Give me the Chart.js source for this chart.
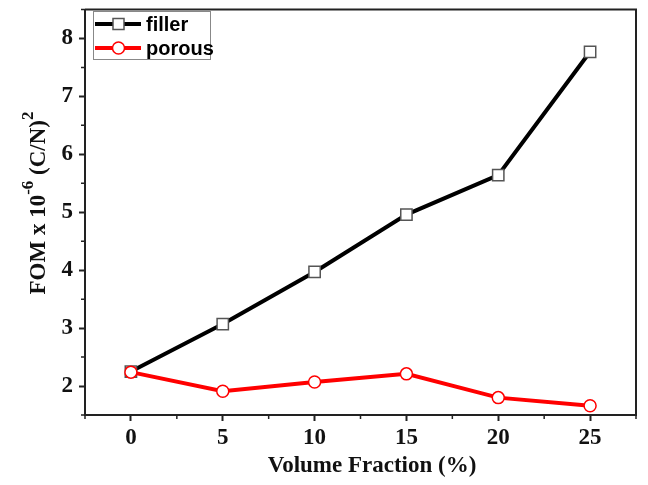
<!DOCTYPE html>
<html>
<head>
<meta charset="utf-8">
<script src="https://cdn.jsdelivr.net/npm/chart.js@4"></script>
<style>
  html, body { margin: 0; padding: 0; background: #fff; }
  #wrap { width: 648px; height: 485px; }
</style>
</head>
<body>
<div id="wrap"><canvas id="myChart" width="648" height="485"></canvas></div>
<script>
const volumeFraction = [0, 5, 10, 15, 20, 25];
const filler = [2.25, 3.07, 3.97, 4.96, 5.64, 7.77];
const porous = [2.24, 1.91, 2.07, 2.21, 1.80, 1.66];
const seriesNames = ['filler', 'porous'];

const serif = "'Liberation Serif', 'Times New Roman', serif";
const sans = "'Liberation Sans', Arial, sans-serif";
const axisColor = '#222';

function toPoints(ys) {
    return volumeFraction.map((x, i) => ({ x: x, y: ys[i] }));
}

// frame, minor ticks, axis titles and legend
const decorations = {
    id: 'decorations',
    afterDraw(chart) {
        const ctx = chart.ctx;
        const area = chart.chartArea;
        const xs = chart.scales.x;
        const ys = chart.scales.y;
        ctx.save();
        ctx.strokeStyle = axisColor;
        ctx.lineWidth = 2;
        ctx.beginPath();
        ctx.moveTo(area.left, area.top);
        ctx.lineTo(area.right, area.top);
        ctx.lineTo(area.right, area.bottom);
        ctx.stroke();

        // minor ticks
        ctx.lineWidth = 1.5;
        ctx.beginPath();
        for (let v = -2.5; v <= 27.5; v += 5) {
            const px = xs.getPixelForValue(v);
            ctx.moveTo(px, area.bottom);
            ctx.lineTo(px, area.bottom + 4);
        }
        for (let v = 1.5; v <= 8.5; v += 1) {
            const py = ys.getPixelForValue(v);
            ctx.moveTo(area.left, py);
            ctx.lineTo(area.left - 4, py);
        }
        ctx.stroke();

        // x title
        ctx.fillStyle = '#111';
        ctx.font = 'bold 23px ' + serif;
        ctx.textAlign = 'center';
        ctx.textBaseline = 'middle';
        ctx.fillText('Volume Fraction (%)', 372, 466);

        // y title with superscripts
        const parts = [
            { t: 'FOM x 10', sup: false },
            { t: '-6', sup: true },
            { t: ' (C/N)', sup: false },
            { t: '2', sup: true }
        ];
        const big = 'bold 23px ' + serif;
        const small = 'bold 17px ' + serif;
        let total = 0;
        parts.forEach(p => {
            ctx.font = p.sup ? small : big;
            p.w = ctx.measureText(p.t).width;
            total += p.w;
        });
        ctx.translate(39, 203);
        ctx.rotate(-Math.PI / 2);
        ctx.textAlign = 'left';
        let cx = -total / 2;
        parts.forEach(p => {
            ctx.font = p.sup ? small : big;
            ctx.fillText(p.t, cx, p.sup ? -10 : 0);
            cx += p.w;
        });
        ctx.restore();

        // legend
        ctx.save();
        ctx.strokeStyle = '#888';
        ctx.lineWidth = 1;
        ctx.strokeRect(93.5, 11.5, 117, 48);
        const items = [
            { name: seriesNames[0], color: '#000', rows: 24 },
            { name: seriesNames[1], color: '#ff0000', rows: 48 }
        ];
        items.forEach((it, i) => {
            ctx.strokeStyle = it.color;
            ctx.lineWidth = 4;
            ctx.beginPath();
            ctx.moveTo(95, it.rows);
            ctx.lineTo(141, it.rows);
            ctx.stroke();
            ctx.fillStyle = '#fff';
            ctx.lineWidth = 1.5;
            if (i === 0) {
                ctx.strokeStyle = '#555';
                ctx.fillRect(113, it.rows - 5.5, 11, 11);
                ctx.strokeRect(113, it.rows - 5.5, 11, 11);
            } else {
                ctx.strokeStyle = '#ff0000';
                ctx.beginPath();
                ctx.arc(118.5, it.rows, 6, 0, Math.PI * 2);
                ctx.fill();
                ctx.stroke();
            }
            ctx.fillStyle = '#000';
            ctx.font = 'bold 20px ' + sans;
            ctx.textAlign = 'left';
            ctx.textBaseline = 'middle';
            ctx.fillText(it.name, 146, it.rows + 1);
        });
        ctx.restore();
    }
};

const ctx = document.getElementById('myChart').getContext('2d');
new Chart(ctx, {
    type: 'line',
    data: {
        datasets: [{
            label: seriesNames[0],
            data: toPoints(filler),
            borderColor: '#000',
            borderWidth: 4,
            pointStyle: 'rect',
            pointRadius: 8,
            pointBackgroundColor: '#fff',
            pointBorderColor: '#555',
            pointBorderWidth: 1.5,
            order: 2
        },
        {
            label: seriesNames[1],
            data: toPoints(porous),
            borderColor: '#ff0000',
            borderWidth: 4,
            pointStyle: 'circle',
            pointRadius: 6,
            pointBackgroundColor: '#fff',
            pointBorderColor: '#ff0000',
            pointBorderWidth: 1.5,
            order: 1
        }]
    },
    options: {
        responsive: false,
        animation: false,
        layout: { padding: { top: 2, right: 12, left: 0, bottom: 0 } },
        plugins: {
            legend: { display: false },
            tooltip: { enabled: false }
        },
        scales: {
            x: {
                type: 'linear',
                min: -2.5,
                max: 27.5,
                afterFit: s => {
                    s.height = 70;
                    s.paddingLeft = 0;
                    s.paddingRight = 0;
                },
                afterBuildTicks: s => {
                    s.ticks = volumeFraction.map(v => ({ value: v }));
                },
                ticks: {
                    color: '#111',
                    font: { family: serif, size: 23, weight: 'bold' },
                    padding: 3
                },
                grid: {
                    drawOnChartArea: false,
                    tickLength: 6,
                    tickWidth: 2,
                    tickColor: axisColor
                },
                border: { color: axisColor, width: 2 }
            },
            y: {
                min: 1.5,
                max: 8.5,
                afterFit: s => {
                    s.width = 85;
                    s.paddingTop = 0;
                    s.paddingBottom = 0;
                },
                afterBuildTicks: s => {
                    s.ticks = [2, 3, 4, 5, 6, 7, 8].map(v => ({ value: v }));
                },
                ticks: {
                    color: '#111',
                    font: { family: serif, size: 23, weight: 'bold' },
                    padding: 6
                },
                grid: {
                    drawOnChartArea: false,
                    tickLength: 6,
                    tickWidth: 2,
                    tickColor: axisColor
                },
                border: { color: axisColor, width: 2 }
            }
        }
    },
    plugins: [decorations]
});
</script>
</body>
</html>
